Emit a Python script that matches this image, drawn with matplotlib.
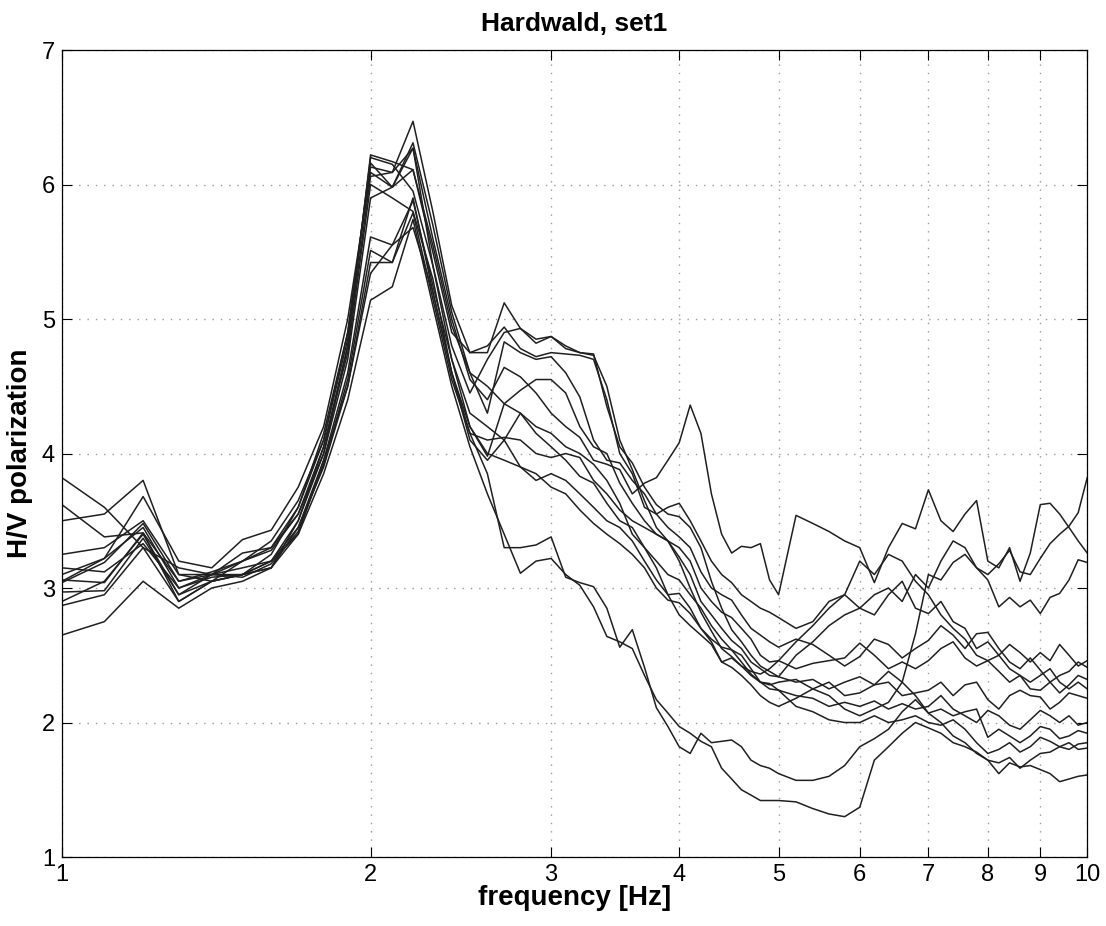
import matplotlib
matplotlib.use('Agg')
import matplotlib.pyplot as plt
from matplotlib.ticker import FixedLocator, NullLocator, FixedFormatter

plt.rcParams.update({
    'font.family': ['Liberation Sans', 'DejaVu Sans'],
    'xtick.direction': 'in',
    'ytick.direction': 'in',
})

# frequency samples (Hz): 0.1 Hz steps up to 5 Hz, 0.2 Hz steps above
freq = [1.0, 1.1, 1.2, 1.3, 1.4, 1.5, 1.6, 1.7, 1.8, 1.9,
        2.0, 2.1, 2.2, 2.3, 2.4, 2.5, 2.6, 2.7, 2.8, 2.9,
        3.0, 3.1, 3.2, 3.3, 3.4, 3.5, 3.6, 3.7, 3.8, 3.9,
        4.0, 4.1, 4.2, 4.3, 4.4, 4.5, 4.6, 4.7, 4.8, 4.9, 5.0,
        5.2, 5.4, 5.6, 5.8, 6.0, 6.2, 6.4, 6.6, 6.8, 7.0, 7.2, 7.4,
        7.6, 7.8, 8.0, 8.2, 8.4, 8.6, 8.8, 9.0, 9.2, 9.4, 9.6, 9.8, 10.0]

# H/V curves, one per recording window
hv_a = [3.05, 3.22, 3.45, 3.0, 3.1, 3.15, 3.2, 3.5, 4.0, 4.7,
        5.9, 5.98, 6.27, 5.6, 5.0, 4.55, 4.4, 4.64, 4.57, 4.45,
        4.3, 4.2, 4.12, 3.95, 3.92, 3.88, 3.7, 3.78, 3.82, 3.95,
        4.08, 4.36, 4.15, 3.7, 3.4, 3.26, 3.31, 3.3, 3.33, 3.06, 2.95,
        3.54, 3.48, 3.42, 3.35, 3.3, 3.04, 3.3, 3.48, 3.44, 3.73, 3.5, 3.42,
        3.55, 3.65, 3.2, 3.15, 3.3, 3.05, 3.26, 3.62, 3.63, 3.55, 3.45, 3.35, 3.26]
hv_b = [3.25, 3.3, 3.5, 3.1, 3.1, 3.2, 3.3, 3.6, 4.1, 4.9,
        6.13, 6.09, 6.47, 5.8, 5.1, 4.75, 4.75, 5.12, 4.93, 4.82,
        4.87, 4.8, 4.75, 4.74, 4.35, 4.05, 3.93, 3.75, 3.62, 3.55,
        3.53, 3.45, 3.3, 3.05, 2.85, 2.69, 2.6, 2.5, 2.42, 2.38, 2.34,
        2.5, 2.6, 2.72, 2.8, 2.85, 2.95, 3.0, 2.9, 3.1, 3.0, 3.2, 3.35,
        3.3, 3.15, 3.1, 3.18, 3.28, 3.12, 3.1, 3.22, 3.33, 3.4, 3.46, 3.56, 3.82]
hv_c = [2.9, 3.05, 3.4, 2.95, 3.05, 3.1, 3.15, 3.45, 3.9, 4.5,
        5.34, 5.55, 5.88, 5.25, 4.7, 4.2, 3.98, 4.37, 4.3, 4.15,
        4.05, 3.95, 3.83, 3.78, 3.63, 3.5, 3.45, 3.3, 3.15, 2.95,
        2.8, 2.72, 2.65, 2.58, 2.45, 2.48, 2.42, 2.35, 2.3, 2.28, 2.3,
        2.32, 2.25, 2.2, 2.1, 2.05, 2.1, 2.15, 2.3, 2.66, 3.1, 3.06, 3.19,
        3.25, 3.15, 3.06, 2.86, 2.93, 2.86, 2.91, 2.81, 2.93, 2.96, 3.06, 3.21, 3.19]
hv_d = [2.65, 2.75, 3.05, 2.85, 3.0, 3.05, 3.15, 3.4, 3.85, 4.4,
        5.14, 5.24, 5.74, 5.1, 4.5, 4.05, 3.7, 3.4, 3.11, 3.2,
        3.22, 3.1, 3.02, 2.86, 2.64, 2.6, 2.55, 2.35, 2.17, 2.07,
        1.97, 1.92, 1.86, 1.82, 1.66, 1.58, 1.5, 1.46, 1.42, 1.42, 1.42,
        1.41, 1.36, 1.32, 1.30, 1.37, 1.72, 1.82, 1.92, 2.0, 1.96, 1.92, 1.85,
        1.82, 1.78, 1.72, 1.62, 1.7, 1.67, 1.68, 1.65, 1.62, 1.56, 1.58, 1.6, 1.61]
hv_e = [2.87, 2.95, 3.3, 2.9, 3.05, 3.1, 3.2, 3.45, 3.95, 4.5,
        5.42, 5.42, 5.79, 5.15, 4.55, 4.15, 3.85, 3.3, 3.3, 3.32,
        3.38, 3.08, 3.04, 3.01, 2.85, 2.56, 2.69, 2.41, 2.11, 1.97,
        1.82, 1.77, 1.92, 1.85, 1.86, 1.87, 1.82, 1.72, 1.68, 1.66, 1.62,
        1.57, 1.57, 1.6, 1.68, 1.82, 1.88, 1.95, 2.08, 2.17, 2.07, 2.0, 1.9,
        1.85, 1.77, 1.72, 1.7, 1.74, 1.66, 1.72, 1.77, 1.78, 1.82, 1.8, 1.84, 1.85]
hv_f = [3.62, 3.38, 3.41, 3.05, 3.1, 3.26, 3.3, 3.55, 4.05, 4.8,
        6.22, 6.17, 6.11, 5.5, 4.9, 4.75, 4.8, 4.94, 4.78, 4.72,
        4.75, 4.74, 4.73, 4.7, 4.4, 4.0, 3.85, 3.6, 3.55, 3.6,
        3.63, 3.5, 3.35, 3.2, 3.1, 3.04, 2.95, 2.9, 2.85, 2.82, 2.78,
        2.7, 2.75, 2.9, 2.95, 2.85, 2.8, 2.95, 3.05, 2.85, 2.81, 2.9, 2.75,
        2.7, 2.55, 2.6, 2.5, 2.58, 2.52, 2.45, 2.52, 2.46, 2.58, 2.5, 2.42, 2.46]
hv_g = [3.82, 3.6, 3.3, 3.15, 3.1, 3.1, 3.25, 3.6, 4.15, 4.9,
        6.16, 5.98, 6.31, 5.7, 5.05, 4.6, 4.3, 4.83, 4.75, 4.7,
        4.72, 4.6, 4.42, 4.1, 3.95, 3.93, 3.8, 3.7, 3.55, 3.45,
        3.38, 3.3, 3.12, 3.0, 2.95, 2.91, 2.8, 2.7, 2.65, 2.6, 2.56,
        2.62, 2.58, 2.5, 2.42, 2.49, 2.62, 2.58, 2.48, 2.55, 2.61, 2.72, 2.65,
        2.55, 2.66, 2.67, 2.55, 2.45, 2.4, 2.48, 2.39, 2.3, 2.35, 2.38, 2.45, 2.41]
hv_h = [3.1, 3.22, 3.68, 3.2, 3.15, 3.36, 3.43, 3.75, 4.2, 5.0,
        6.09, 5.98, 6.11, 5.55, 4.95, 4.6, 4.5, 4.37, 4.47, 4.55,
        4.55, 4.45, 4.2, 4.05, 4.0, 3.78, 3.63, 3.5, 3.4, 3.35,
        3.3, 3.2, 3.0, 2.9, 2.82, 2.78, 2.7, 2.62, 2.5, 2.45, 2.46,
        2.4, 2.44, 2.46, 2.48, 2.59, 2.5, 2.4, 2.45, 2.4, 2.46, 2.55, 2.6,
        2.48, 2.42, 2.46, 2.38, 2.3, 2.35, 2.25, 2.24, 2.3, 2.22, 2.28, 2.35, 2.32]
hv_i = [3.15, 3.12, 3.33, 3.0, 3.08, 3.1, 3.2, 3.4, 3.95, 4.6,
        5.61, 5.55, 5.68, 5.2, 4.6, 4.15, 4.1, 4.12, 4.1, 4.0,
        3.97, 4.0, 3.97, 3.8, 3.7, 3.58, 3.5, 3.45, 3.4, 3.35,
        3.23, 3.1, 2.9, 2.8, 2.7, 2.61, 2.55, 2.45, 2.4, 2.35, 2.34,
        2.3, 2.32, 2.25, 2.3, 2.34, 2.28, 2.3, 2.2, 2.22, 2.24, 2.3, 2.2,
        2.28, 2.3, 2.17, 2.1, 2.2, 2.24, 2.2, 2.19, 2.1, 2.15, 2.22, 2.2, 2.18]
hv_j = [3.04, 3.19, 3.48, 3.05, 3.12, 3.2, 3.28, 3.55, 4.0, 4.8,
        6.06, 6.09, 6.27, 5.4, 4.7, 4.3, 4.2, 4.1, 3.9, 3.8,
        3.85, 3.8, 3.7, 3.6, 3.5, 3.45, 3.35, 3.2, 3.06, 2.95,
        2.96, 2.85, 2.7, 2.62, 2.56, 2.54, 2.5, 2.4, 2.3, 2.25, 2.24,
        2.2, 2.18, 2.12, 2.15, 2.12, 2.16, 2.1, 2.14, 2.1, 2.12, 2.2, 2.1,
        2.05, 2.0, 2.09, 2.05, 1.98, 1.95, 2.02, 2.09, 2.05, 2.0, 2.05, 1.98, 2.0]
hv_k = [2.97, 2.98, 3.37, 2.95, 3.1, 3.08, 3.18, 3.42, 3.92, 4.55,
        5.51, 5.42, 5.9, 5.2, 4.6, 4.2, 4.0, 3.95, 3.9, 3.85,
        3.75, 3.7, 3.58, 3.48, 3.4, 3.33, 3.25, 3.15, 3.0, 2.91,
        2.89, 2.81, 2.7, 2.6, 2.45, 2.41, 2.35, 2.28, 2.2, 2.15, 2.12,
        2.18, 2.25, 2.3, 2.2, 2.22, 2.28, 2.38, 2.3, 2.2, 2.07, 2.1, 2.05,
        2.08, 2.1, 1.89, 1.95, 1.9, 1.85, 1.9, 1.97, 1.95, 1.88, 1.9, 1.94, 1.92]
hv_l = [3.06, 3.04, 3.41, 2.9, 3.05, 3.1, 3.15, 3.5, 4.05, 4.75,
        6.0, 5.9, 5.8, 5.3, 4.6, 4.1, 3.95, 4.1, 4.3, 4.2,
        4.15, 4.05, 4.0, 3.92, 3.8, 3.63, 3.4, 3.3, 3.2, 3.1,
        3.06, 2.95, 2.85, 2.72, 2.62, 2.54, 2.45, 2.36, 2.3, 2.29, 2.24,
        2.12, 2.08, 2.02, 2.0, 2.0, 2.05, 2.0, 2.02, 2.05, 2.0, 1.98, 2.02,
        1.95, 1.85, 1.77, 1.8, 1.85, 1.78, 1.82, 1.89, 1.86, 1.82, 1.85, 1.8, 1.81]
hv_m = [3.5, 3.55, 3.8, 3.1, 3.05, 3.2, 3.35, 3.65, 4.1, 4.85,
        6.2, 6.15, 5.95, 5.4, 4.8, 4.45, 4.7, 4.9, 4.93, 4.85,
        4.87, 4.78, 4.75, 4.73, 4.5, 4.1, 3.88, 3.65, 3.45, 3.35,
        3.2, 3.0, 2.82, 2.68, 2.55, 2.49, 2.42, 2.38, 2.36, 2.4, 2.46,
        2.6, 2.72, 2.85, 2.95, 3.2, 3.1, 3.25, 3.2, 3.05, 2.95, 2.8, 2.7,
        2.62, 2.5, 2.46, 2.5, 2.4, 2.35, 2.3, 2.35, 2.4, 2.3, 2.25, 2.3, 2.25]

curves = [hv_a, hv_b, hv_c, hv_d, hv_e, hv_f, hv_g,
          hv_h, hv_i, hv_j, hv_k, hv_l, hv_m]

xticks = [1, 2, 3, 4, 5, 6, 7, 8, 9, 10]
xticklabels = ['1', '2', '3', '4', '5', '6', '7', '8', '9', '10']
yticks = [1, 2, 3, 4, 5, 6, 7]

fig = plt.figure(figsize=(11.06, 9.26), dpi=100)
ax = fig.add_axes([0.056, 0.0745, 0.927, 0.8715])

for hv in curves:
    ax.plot(freq, hv, color='#202020', linewidth=1.1)

ax.set_xscale('log')
ax.set_xlim(1, 10)
ax.set_ylim(1, 7)
ax.xaxis.set_major_locator(FixedLocator(xticks))
ax.xaxis.set_major_formatter(FixedFormatter(xticklabels))
ax.xaxis.set_minor_locator(NullLocator())
ax.set_yticks(yticks)

ax.grid(True, color='#9a9a9a', linestyle=(0, (1, 5)), linewidth=1.0)
ax.tick_params(which='both', top=True, right=True, length=7, width=0.8,
               labelsize=17, pad=5)
for sp in ax.spines.values():
    sp.set_linewidth(0.9)

ax.set_xlabel('frequency [Hz]', fontsize=20, fontweight='bold', labelpad=-1)
ax.set_ylabel('H/V polarization', fontsize=20, fontweight='bold', labelpad=6)
ax.set_title('Hardwald, set1', fontsize=19, fontweight='bold', pad=14)

fig.savefig('out.png', dpi=100)
